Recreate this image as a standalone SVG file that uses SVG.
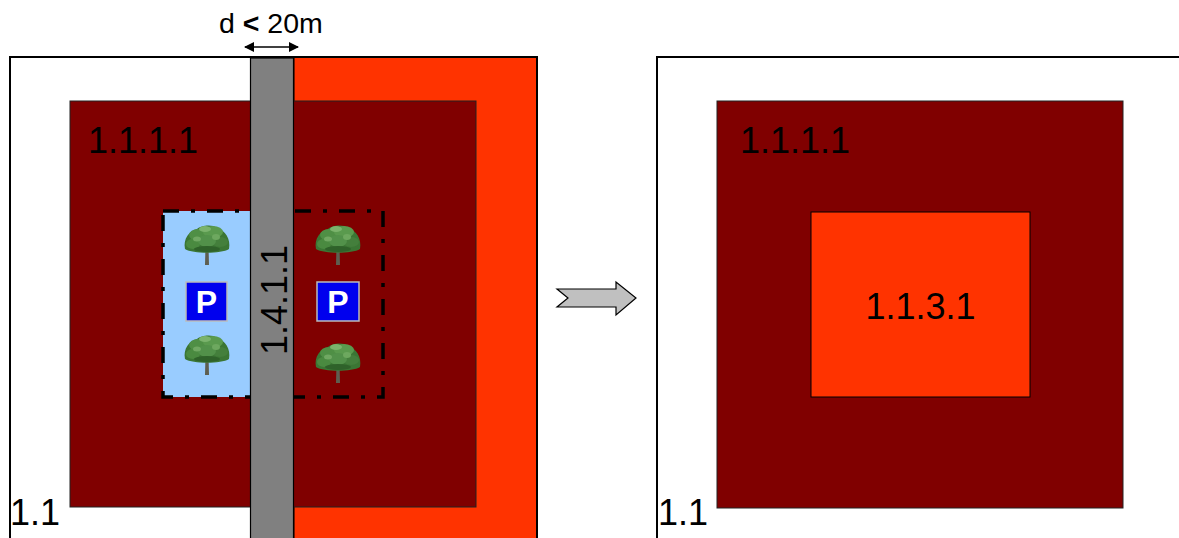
<svg xmlns="http://www.w3.org/2000/svg" xmlns:xlink="http://www.w3.org/1999/xlink" width="1179" height="538" viewBox="0 0 1179 538">
<style>
.lbl{font-family:"Liberation Sans",Arial,sans-serif;font-size:36px;fill:#000}
.frame{fill:#fff;stroke:#000;stroke-width:2}
.dred{fill:#800000;stroke:#222;stroke-width:1}
.orange{fill:#FF3300;stroke:#000;stroke-width:1}
.road{fill:#808080;stroke:#000;stroke-width:1.2}
.dash{fill:none;stroke:#000;stroke-width:3.5;stroke-dasharray:16 12 4 12}
.psign{fill:#0000EE;stroke:#bbb;stroke-width:1.5}
.ptxt{font-family:"Liberation Sans",Arial,sans-serif;font-weight:bold;font-size:32px;fill:#fff}
</style>
<defs>
<marker id="ah" markerWidth="10" markerHeight="10" refX="9" refY="5" orient="auto-start-reverse" markerUnits="userSpaceOnUse">
<path d="M0,0 L10,5 L0,10 z" fill="#000"/>
</marker>
<g id="tree">
<path d="M-1.5,20 L-2,40 L2,40 L1.5,20 Z" fill="#5e5e50"/>
<path d="M-22,24 C-24,14 -18,6 -10,4 C-6,0 6,-1 10,3 C18,5 24,14 22,24 C14,29 -14,29 -22,24 Z" fill="#3b7634"/>
<ellipse cx="-9" cy="10" rx="9" ry="6" fill="#4f8f45"/>
<ellipse cx="6" cy="7" rx="10" ry="6" fill="#5a9a4e"/>
<ellipse cx="-14" cy="19" rx="7" ry="5" fill="#4a8a40"/>
<ellipse cx="13" cy="17" rx="8" ry="5" fill="#447f3c"/>
<ellipse cx="0" cy="16" rx="9" ry="6" fill="#52914a"/>
<ellipse cx="-2" cy="4" rx="6" ry="3" fill="#7bb36c"/>
<ellipse cx="9" cy="12" rx="4" ry="3" fill="#6da85f"/>
<ellipse cx="-10" cy="14" rx="4" ry="2.5" fill="#70a862"/>
<ellipse cx="0" cy="24" rx="13" ry="3" fill="#2f622a"/>
</g>
</defs>

<g id="left-panel">
<rect class="frame" x="10" y="57" width="527" height="500"/>
<rect class="orange" x="294" y="57" width="243" height="500"/>
<rect fill="none" stroke="#000" stroke-width="2" x="10" y="57" width="527" height="500"/>
<rect class="dred" x="70" y="101" width="406" height="406"/>
<text class="lbl" x="88" y="153">1.1.1.1</text>
<text class="lbl" x="10" y="525">1.1</text>
</g>

<g id="parking-left">
<rect x="163" y="211" width="87" height="186" fill="#99CCFF"/>
<rect class="dash" x="163" y="211" width="220" height="186"/>
<use xlink:href="#tree" x="207" y="225"/>
<use xlink:href="#tree" x="207" y="335"/>
<rect class="psign" x="186" y="282" width="41" height="39"/>
<text class="ptxt" x="206.5" y="313" text-anchor="middle">P</text>
</g>

<g id="parking-right">
<use xlink:href="#tree" x="338" y="225"/>
<use xlink:href="#tree" x="338" y="343"/>
<rect class="psign" x="317" y="282" width="42" height="39"/>
<text class="ptxt" x="338" y="313" text-anchor="middle">P</text>
</g>

<g id="road">
<rect class="road" x="250.5" y="58" width="43" height="490"/>
<text class="lbl" transform="translate(287,300) rotate(-90)" text-anchor="middle">1.4.1.1</text>
</g>

<g id="connectors">
<line x1="245" y1="47" x2="298" y2="47" stroke="#000" stroke-width="1.5" marker-start="url(#ah)" marker-end="url(#ah)"/>
<path d="M557,289 L616,289 L616,282 L636,298 L616,315 L616,307 L557,307 L568,298 Z" fill="#C0C0C0" stroke="#000" stroke-width="1.2"/>
</g>

<g id="dim-label">
<text x="219" y="33" font-family="Liberation Sans, Arial, sans-serif" font-size="28.5" fill="#000">d <tspan font-weight="bold">&lt;</tspan> 20m</text>
</g>

<g id="right-panel">
<rect class="frame" x="657" y="57" width="540" height="500"/>
<rect class="dred" x="717" y="101" width="406" height="407"/>
<rect class="orange" x="811" y="212" width="219" height="185"/>
<text class="lbl" x="740" y="153">1.1.1.1</text>
<text class="lbl" x="920.5" y="319" text-anchor="middle">1.1.3.1</text>
<text class="lbl" x="658" y="525">1.1</text>
</g>
</svg>
